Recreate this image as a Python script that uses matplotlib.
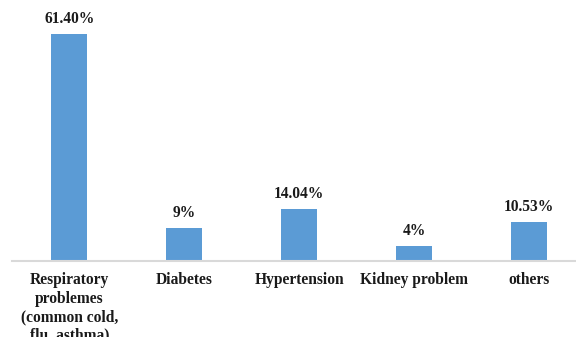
import matplotlib
matplotlib.use("Agg")
import matplotlib.pyplot as plt

categories = ["Respiratory\nproblemes\n(common cold,\nflu, asthma)",
              "Diabetes", "Hypertension", "Kidney problem", "others"]
values = [61.40, 9, 14.04, 4, 10.53]
value_labels = ["61.40%", "9%", "14.04%", "4%", "10.53%"]

W, H = 576, 337
fig = plt.figure(figsize=(W / 100, H / 100), dpi=100)
plt.rcParams["font.family"] = ["Liberation Serif", "DejaVu Serif"]

# axes box in pixel terms: baseline at y=261, slots spanning x=12..586.5
left, right = 12, 586.5
base, top = 261, 10
ax = fig.add_axes([left / W, (H - base) / H, (right - left) / W, (base - top) / H])

x = range(len(categories))
bars = ax.bar(x, values, width=0.313, color="#5b9bd5", zorder=2)
ax.set_xlim(-0.5, 4.5)
ax.set_ylim(0, (base - top) / (227 / 61.4))

for b, lab in zip(bars, value_labels):
    ax.annotate(lab, (b.get_x() + b.get_width() / 2, b.get_height()),
                xytext=(0, 5), textcoords="offset points",
                ha="center", va="bottom", fontsize=11.2, fontweight="bold",
                color="#1a1a1a")

ax.set_xticks(list(x))
ax.set_xticklabels(categories, fontsize=11.2, fontweight="bold", color="#1a1a1a",
                   linespacing=1.2)
ax.tick_params(axis="x", length=0, pad=8)
ax.set_yticks([])
for s in ["top", "right", "left"]:
    ax.spines[s].set_visible(False)
ax.spines["bottom"].set_color("#d9d9d9")
ax.spines["bottom"].set_linewidth(1.5)
ax.set_facecolor("none")

fig.savefig("out.png", dpi=100)
